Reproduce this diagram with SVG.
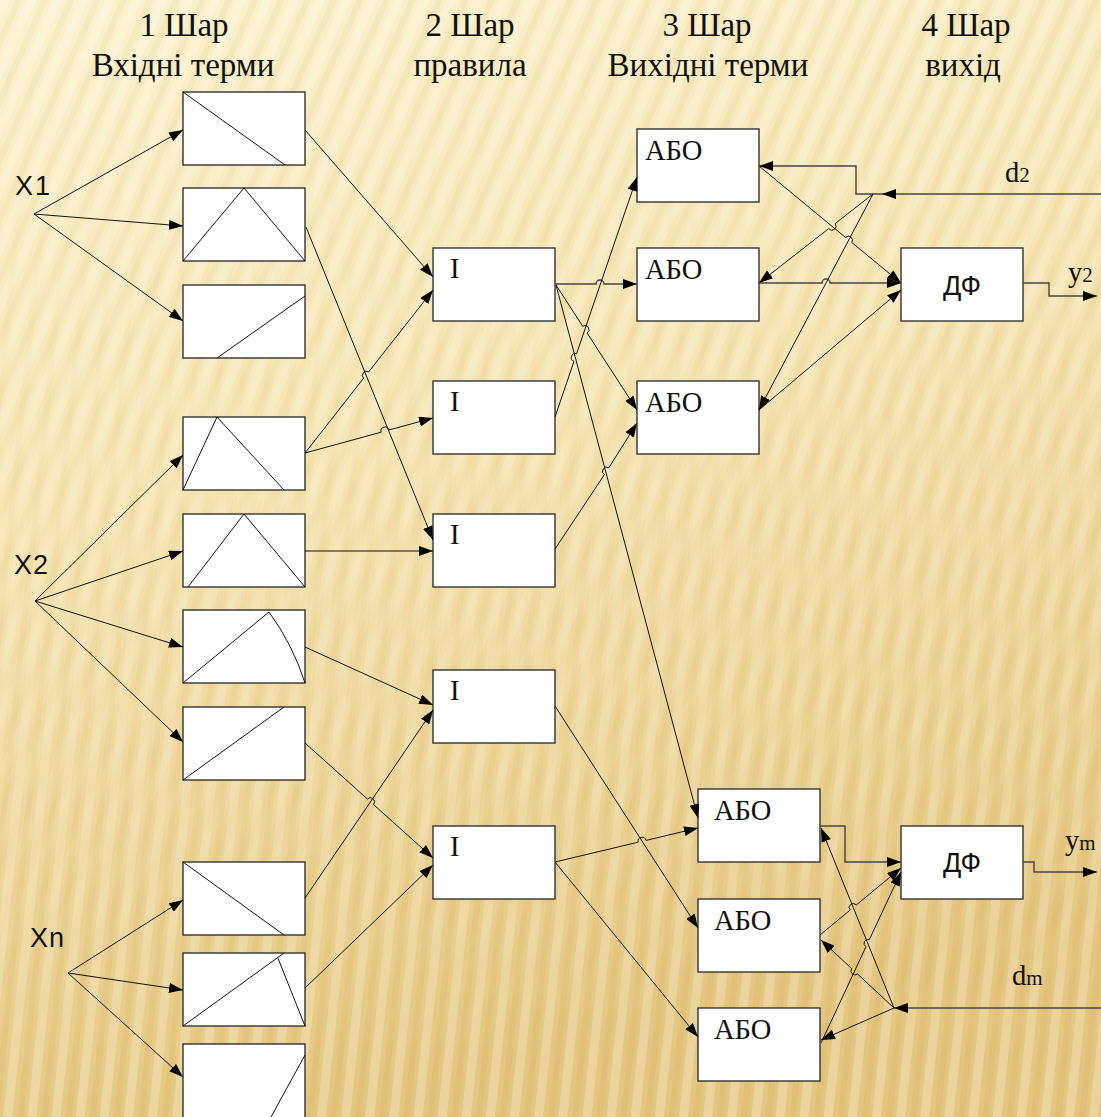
<svg xmlns="http://www.w3.org/2000/svg" width="1101" height="1117" viewBox="0 0 1101 1117">
<defs>
<linearGradient id="bg" x1="0" y1="0" x2="0.25" y2="1">
<stop offset="0" stop-color="#FBF1CD"/>
<stop offset="0.45" stop-color="#F6E4B0"/>
<stop offset="1" stop-color="#E4C67E"/>
</linearGradient>
<linearGradient id="fadeDown" x1="0" y1="0" x2="0" y2="1">
<stop offset="0" stop-color="#fff"/>
<stop offset="1" stop-color="#000"/>
</linearGradient>
<linearGradient id="fadeUp" x1="0" y1="0" x2="0" y2="1">
<stop offset="0" stop-color="#000"/>
<stop offset="1" stop-color="#fff"/>
</linearGradient>
<mask id="mTop" maskUnits="userSpaceOnUse" x="0" y="0" width="1101" height="1117"><rect width="1101" height="1117" fill="url(#fadeDown)"/></mask>
<mask id="mBot" maskUnits="userSpaceOnUse" x="0" y="0" width="1101" height="1117"><rect width="1101" height="1117" fill="url(#fadeUp)"/></mask>
<pattern id="stripesA" width="24" height="24" patternUnits="userSpaceOnUse" patternTransform="rotate(24)">
<rect x="0" y="0" width="9" height="24" fill="#FFFFFF" opacity="0.25"/>
<rect x="14" y="0" width="6" height="24" fill="#B8903A" opacity="0.08"/>
</pattern>
<pattern id="stripesB" width="24" height="24" patternUnits="userSpaceOnUse" patternTransform="rotate(6)">
<rect x="0" y="0" width="9" height="24" fill="#FFFFFF" opacity="0.25"/>
<rect x="14" y="0" width="6" height="24" fill="#B8903A" opacity="0.09"/>
</pattern>
<marker id="ah" viewBox="0 0 14 10" refX="14" refY="5" markerWidth="14" markerHeight="10" markerUnits="userSpaceOnUse" orient="auto">
<path d="M0 0 L14 5 L0 10 z" fill="#000"/>
</marker>
<style>
.box{fill:#FFFFFF;stroke:#333;stroke-width:1.4}
.mf{fill:none;stroke:#111;stroke-width:1}
.c{fill:none;stroke:#111;stroke-width:1}
.a{marker-end:url(#ah)}
.g{stroke:#444;stroke-width:1.4}
.title{font-family:"Liberation Serif","Times New Roman",serif;font-size:33px;fill:#111;text-anchor:middle}
.lab{font-family:"Liberation Serif","Times New Roman",serif;font-size:28.5px;fill:#111}
.sub{font-size:21px}
.sans{font-family:"Liberation Sans",Arial,sans-serif;font-size:27px;fill:#111}
</style>
</defs>
<rect width="1101" height="1117" fill="url(#bg)"/>
<rect width="1101" height="1117" fill="url(#stripesA)" mask="url(#mTop)"/>
<rect width="1101" height="1117" fill="url(#stripesB)" mask="url(#mBot)"/>

<g id="titles">
<text class="title" x="184" y="36">1 Шар</text>
<text class="title" x="183" y="76">Вхідні терми</text>
<text class="title" x="470" y="36">2 Шар</text>
<text class="title" x="470" y="76">правила</text>
<text class="title" x="707" y="36">3 Шар</text>
<text class="title" x="708" y="76">Вихідні терми</text>
<text class="title" x="966" y="36">4 Шар</text>
<text class="title" x="963" y="76">вихід</text>
</g>

<g id="inputs">
<text id="x1" class="sans" x="15" y="195" letter-spacing="2">X1</text>
<text id="x2" class="sans" x="14" y="574" letter-spacing="1">X2</text>
<text id="xn" class="sans" x="30" y="947" letter-spacing="1">Xn</text>
</g>

<g id="layer1">
<g id="t1"><rect class="box" x="183" y="92" width="122" height="73"/><path class="mf" d="M183 92 L285 165"/></g>
<g id="t2"><rect class="box" x="183" y="188" width="122" height="73"/><path class="mf" d="M183 261 L244 188 L305 261"/></g>
<g id="t3"><rect class="box" x="183" y="285" width="122" height="73"/><path class="mf" d="M217 358 L305 296"/></g>
<g id="t4"><rect class="box" x="183" y="417" width="122" height="73"/><path class="mf" d="M183 490 L217 417 L284 490"/></g>
<g id="t5"><rect class="box" x="183" y="514" width="122" height="73"/><path class="mf" d="M188 587 L244 514 L305 587"/></g>
<g id="t6"><rect class="box" x="183" y="610" width="122" height="73"/><path class="mf" d="M183 683 L269 612 Q293 645 305 683"/></g>
<g id="t7"><rect class="box" x="183" y="707" width="122" height="73"/><path class="mf" d="M183 780 L284 707"/></g>
<g id="t8"><rect class="box" x="183" y="862" width="122" height="73"/><path class="mf" d="M183 862 L284 935"/></g>
<g id="t9"><rect class="box" x="183" y="953" width="122" height="73"/><path class="mf" d="M183 1026 L284 953 M277.7 957.5 L305 1026"/></g>
<g id="t10"><rect class="box" x="183" y="1044" width="122" height="80"/><path class="mf" d="M305 1055 L271 1117"/></g>
</g>

<g id="layer2">
<g id="i1"><rect class="box" x="433" y="248" width="122" height="73"/><text class="lab" x="450" y="278">I</text></g>
<g id="i2"><rect class="box" x="433" y="381" width="122" height="73"/><text class="lab" x="450" y="411">I</text></g>
<g id="i3"><rect class="box" x="433" y="514" width="122" height="73"/><text class="lab" x="450" y="544">I</text></g>
<g id="i4"><rect class="box" x="433" y="670" width="122" height="73"/><text class="lab" x="450" y="700">I</text></g>
<g id="i5"><rect class="box" x="433" y="826" width="122" height="73"/><text class="lab" x="450" y="856">I</text></g>
</g>

<g id="layer3">
<g id="or1"><rect class="box" x="637" y="129" width="122" height="73"/><text class="lab" x="645" y="160">АБО</text></g>
<g id="or2"><rect class="box" x="637" y="248" width="122" height="73"/><text class="lab" x="645" y="279">АБО</text></g>
<g id="or3"><rect class="box" x="637" y="381" width="122" height="73"/><text class="lab" x="645" y="412">АБО</text></g>
<g id="or4"><rect class="box" x="698" y="789" width="122" height="73"/><text class="lab" x="714" y="820">АБО</text></g>
<g id="or5"><rect class="box" x="698" y="899" width="122" height="73"/><text class="lab" x="714" y="930">АБО</text></g>
<g id="or6"><rect class="box" x="698" y="1008" width="122" height="73"/><text class="lab" x="714" y="1039">АБО</text></g>
</g>

<g id="layer4">
<g id="df1"><rect class="box" x="901" y="248" width="122" height="73"/><text class="sans" x="962" y="295" font-size="30" text-anchor="middle">ДФ</text></g>
<g id="df2"><rect class="box" x="901" y="826" width="122" height="73"/><text class="sans" x="962" y="872" font-size="30" text-anchor="middle">ДФ</text></g>
</g>

<g id="io-labels">
<text class="lab" x="1005" y="182">d<tspan class="sub">2</tspan></text>
<text class="lab" x="1068" y="282">y<tspan class="sub">2</tspan></text>
<text class="lab" x="1065" y="850">y<tspan class="sub">m</tspan></text>
<text class="lab" x="1012" y="985">d<tspan class="sub">m</tspan></text>
</g>

<g id="connectors">
<path class="c a" d="M34 214 L183 130"/>
<path class="c a" d="M34 214 L183 226"/>
<path class="c a" d="M34 214 L183 321"/>
<path class="c a" d="M35 601 L183 455"/>
<path class="c a" d="M35 601 L183 551"/>
<path class="c a" d="M35 601 L183 647"/>
<path class="c a" d="M35 601 L183 742"/>
<path class="c a" d="M68 973 L183 900"/>
<path class="c a" d="M68 973 L183 990"/>
<path class="c a" d="M68 973 L183 1077"/>
<path class="c a" d="M305 130 L433 277"/>
<path class="c a" d="M306 227 L433 540"/>
<path class="c a" d="M305 453 L363.6 378.2 A4 4 0 0 1 368.6 372 L433 290"/>
<path class="c a" d="M305 453 L381.1 432.2 A4 4 0 0 1 388.9 430 L433 418"/>
<path class="c a" d="M305 551 L433 551"/>
<path class="c a" d="M305 647 L433 705"/>
<path class="c a" d="M305 743 L367.5 799.1 A4 4 0 0 1 373.5 804.5 L433 858"/>
<path class="c a" d="M305 898 L433 710"/>
<path class="c a" d="M305 988 L433 865"/>
<path class="c a g" d="M555 284 L596 284 A4 4 0 0 1 604 284 L637 284"/>
<path class="c a" d="M556 285 L582.7 326.2 A4 4 0 0 1 587.1 333 L637 410"/>
<path class="c a" d="M556 285 L698 818"/>
<path class="c a" d="M555 417 L574 361.3 A4 4 0 0 1 576.6 353.7 L637 177"/>
<path class="c a" d="M555 549 L604.4 474.6 A4 4 0 0 1 608.8 467.8 L637 423"/>
<path class="c a" d="M555 706 L698 928"/>
<path class="c a" d="M555 862 L638.2 842.2 A4 4 0 0 1 646 840.4 L698 828"/>
<path class="c a" d="M555 862 L698 1037"/>
<path class="c a" d="M759 166 L845.6 237.5 A4 4 0 0 1 851.8 242.5 L901 283"/>
<path class="c a g" d="M759 283 L822 283 A4 4 0 0 1 830 283 L901 283"/>
<path class="c a" d="M759 410 L901 290"/>
<path class="c a g" d="M1101 194 L882 194"/>
<path class="c a g" d="M882 194 L856 194 L856 166 L759 166"/>
<path class="c a" d="M873 194 L835.1 223.6 A4 4 0 0 1 828.7 228.6 L759 283"/>
<path class="c a" d="M873 194 L759 410"/>
<path class="c a g" d="M1023 283 L1049 283 L1049 296 L1097 296"/>
<path class="c a g" d="M820 826 L845 826 L845 862 L901 862"/>
<path class="c a" d="M820 935 L850.1 910.1 A4 4 0 0 1 856.3 905 L901 868"/>
<path class="c a" d="M821 1043 L866 946.7 A4 4 0 0 1 869.4 939.5 L901 872"/>
<path class="c a g" d="M1101 1008 L894 1008"/>
<path class="c a" d="M894 1008 L821 828"/>
<path class="c a" d="M894 1008 L857.5 974 A4 4 0 0 1 851.7 968.6 L821 940"/>
<path class="c a" d="M894 1008 L821 1040"/>
<path class="c a g" d="M1023 862 L1034 862 L1034 872 L1097 872"/>
</g>
</svg>
